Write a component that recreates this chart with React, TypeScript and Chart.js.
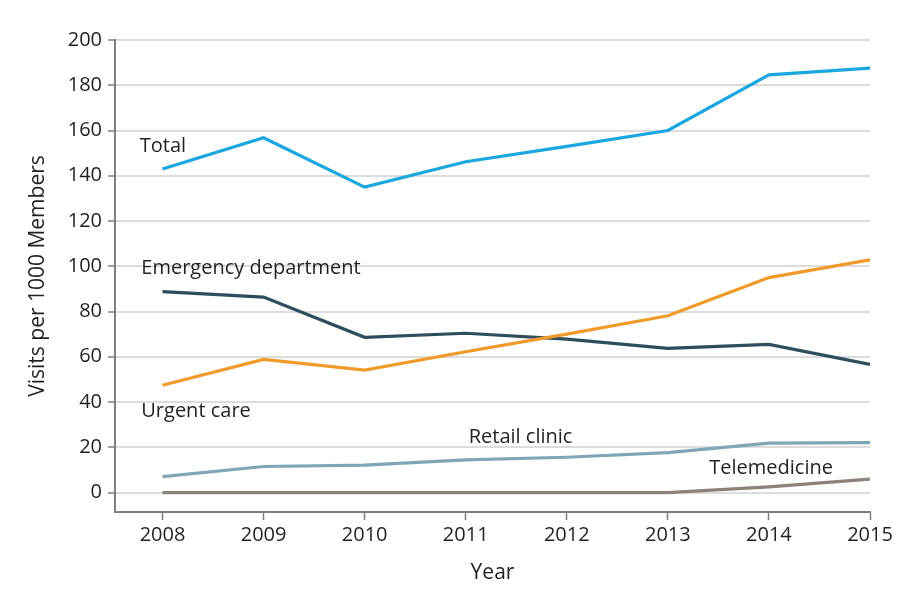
import { useEffect, useRef } from "react";
import { Chart, registerables } from "chart.js";
import type { Plugin } from "chart.js";

Chart.register(...registerables);

const years = [2008, 2009, 2010, 2011, 2012, 2013, 2014, 2015];
const total = [143, 156.8, 135, 146.2, 153, 160, 184.6, 187.6];
const emergency = [88.8, 86.4, 68.6, 70.4, 67.8, 63.7, 65.5, 56.6];
const urgentCare = [47.4, 58.8, 54.1, 62.2, 70, 78.1, 95, 102.8];
const retailClinic = [7, 11.5, 12.1, 14.4, 15.6, 17.6, 21.8, 22.1];
const telemedicine = [0, 0, 0, 0, 0, 0, 2.5, 5.9];
const yTicks = [0, 20, 40, 60, 80, 100, 120, 140, 160, 180, 200];

// series labels placed in data units (left edge, baseline)
const seriesLabels = [
  { text: "Total", x: 2007.775, y: 150.7 },
  { text: "Emergency department", x: 2007.79, y: 96.6 },
  { text: "Urgent care", x: 2007.79, y: 33.2 },
  { text: "Retail clinic", x: 2011.03, y: 22.0 },
  { text: "Telemedicine", x: 2013.41, y: 8.1 },
];

const FONT = "'Open Sans', sans-serif";

const labelPlugin: Plugin<"line"> = {
  id: "seriesLabels",
  afterDatasetsDraw(chart) {
    const { ctx, scales } = chart;
    ctx.save();
    ctx.font = `20px ${FONT}`;
    ctx.fillStyle = "#231f20";
    ctx.textAlign = "left";
    ctx.textBaseline = "alphabetic";
    for (const l of seriesLabels) {
      ctx.fillText(l.text, scales.x.getPixelForValue(l.x), scales.y.getPixelForValue(l.y));
    }
    ctx.restore();
  },
};

const toPoints = (vals: number[]) => vals.map((v, i) => ({ x: years[i], y: v }));

export default function App() {
  const canvasRef = useRef<HTMLCanvasElement>(null);

  useEffect(() => {
    document.body.style.margin = "0";
    const canvas = canvasRef.current;
    if (!canvas) return;

    const line = (label: string, data: number[], color: string) => ({
      label,
      data: toPoints(data),
      borderColor: color,
      borderWidth: 3.2,
      pointRadius: 0,
      tension: 0,
      fill: false,
    });

    const chart = new Chart(canvas, {
      type: "line",
      data: {
        datasets: [
          line("Telemedicine", telemedicine, "#8c8279"),
          line("Retail clinic", retailClinic, "#7fa6b6"),
          line("Urgent care", urgentCare, "#f09a2a"),
          line("Emergency department", emergency, "#2e4e5b"),
          line("Total", total, "#1aa7df"),
        ],
      },
      options: {
        responsive: false,
        animation: false,
        layout: { padding: { top: 40, right: 49, left: 0, bottom: 0 } },
        plugins: {
          legend: { display: false },
          tooltip: { enabled: false },
        },
        scales: {
          x: {
            type: "linear",
            min: 2007.53,
            max: 2015,
            afterBuildTicks: (scale) => {
              scale.ticks = years.map((v) => ({ value: v }));
            },
            afterFit: (scale) => {
              scale.height = 88;
            },
            border: { color: "#7f7f7f", width: 2 },
            grid: { drawOnChartArea: false, tickColor: "#7f7f7f", tickLength: 8, tickWidth: 1.5 },
            ticks: {
              callback: (v) => String(v),
              color: "#231f20",
              font: { size: 20, family: FONT },
              padding: 3,
              maxRotation: 0,
            },
            title: {
              display: true,
              text: "Year",
              color: "#231f20",
              font: { size: 21, family: FONT },
              padding: { top: 0, bottom: 14 },
            },
          },
          y: {
            min: -8.6,
            max: 200,
            afterBuildTicks: (scale) => {
              scale.ticks = yTicks.map((v) => ({ value: v }));
            },
            afterFit: (scale) => {
              scale.width = 115;
            },
            border: { color: "#7f7f7f", width: 2 },
            grid: { color: "#dcdcdc", lineWidth: 2, tickColor: "#7f7f7f", tickLength: 7, tickWidth: 1.5 },
            ticks: {
              color: "#231f20",
              font: { size: 20, family: FONT },
              padding: 6,
            },
            title: {
              display: true,
              text: "Visits per 1000 Members",
              color: "#231f20",
              font: { size: 21, family: FONT },
              padding: { top: 25, bottom: 0 },
            },
          },
        },
      },
      plugins: [labelPlugin],
    });

    return () => chart.destroy();
  }, []);

  return (
    <div style={{ width: 919, height: 600, background: "#fff" }}>
      <canvas ref={canvasRef} width={919} height={600} />
    </div>
  );
}
